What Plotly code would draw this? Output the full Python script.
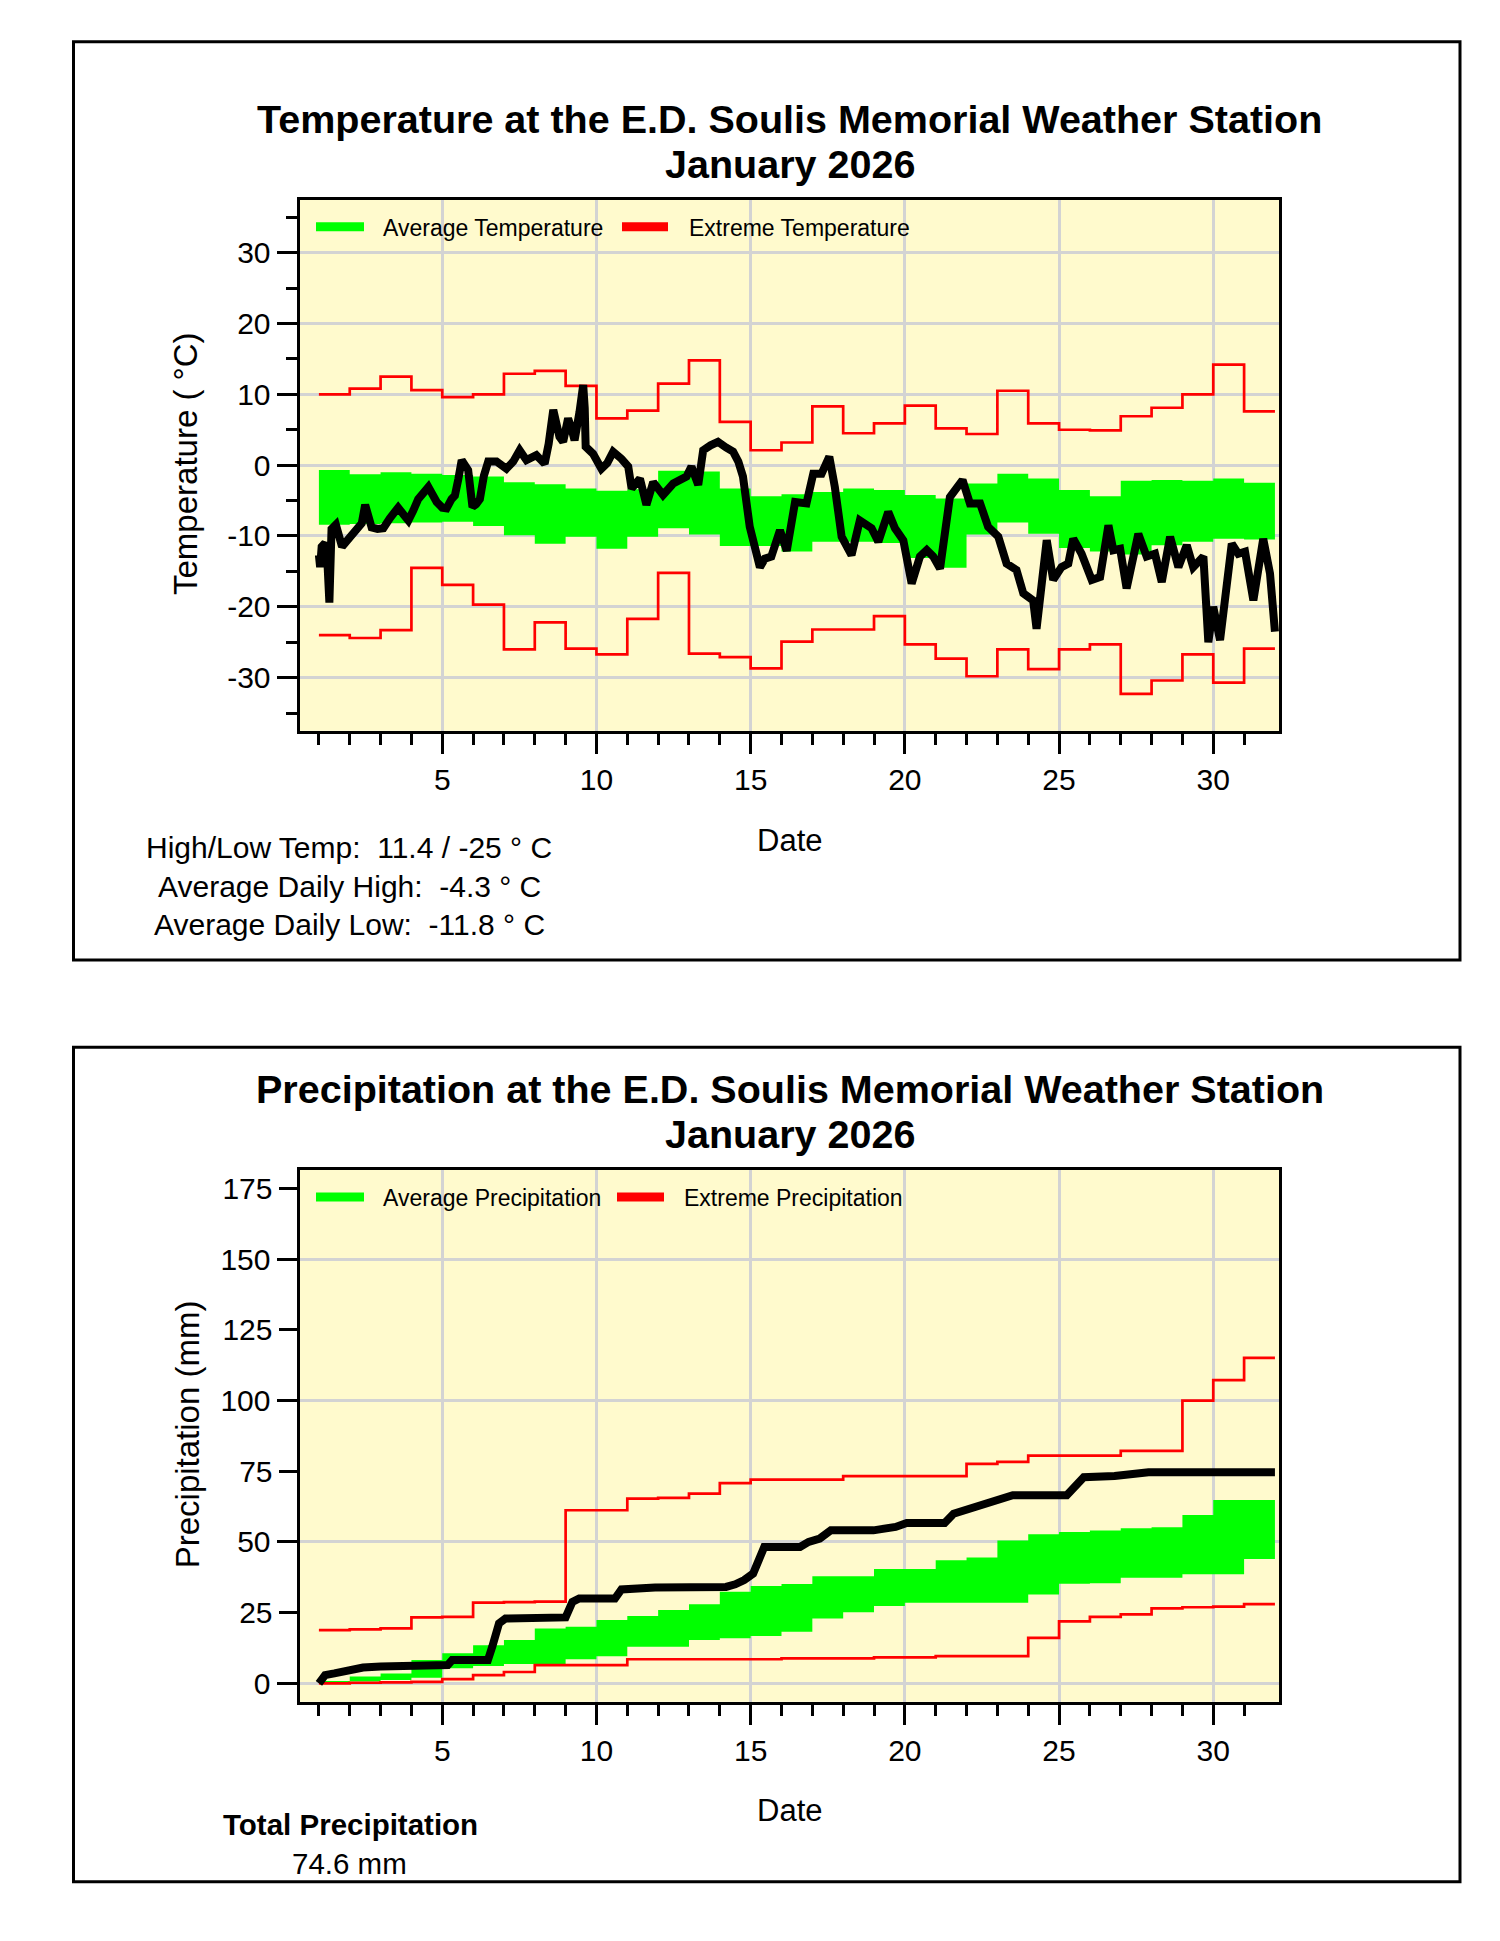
import plotly.graph_objects as go

W, H = 1500, 1941          # reference picture size (px)
PAGE_MARGIN = 8            # default body margin of the html page
FW, FH = W - 2 * PAGE_MARGIN, H - 2 * PAGE_MARGIN
FONT = "Liberation Sans, Arial, sans-serif"

# ---------------- data ----------------
days = list(range(1, 32))
step_x = list(range(1, 33))

# temperature: daily average band (high/low) and extremes
avg_temp_hi = [-0.7, -1.3, -1.0, -1.2, -1.4, -1.6, -2.4, -2.7, -3.3, -3.6, -3.4, -0.8, -0.9, -3.3, -4.4,
               -4.1, -3.8, -3.3, -3.5, -4.2, -4.7, -2.6, -1.2, -1.9, -3.5, -4.4, -2.2, -2.1, -2.2, -1.9, -2.5]
avg_temp_lo = [-8.4, -8.3, -8.2, -8.1, -8.0, -8.6, -9.9, -11.1, -10.1, -11.8, -10.1, -8.9, -9.8, -11.4, -11.4,
               -12.2, -10.8, -10.8, -11.0, -13.1, -14.5, -9.8, -8.1, -9.7, -11.7, -12.2, -12.6, -11.3, -10.8, -10.4, -10.5]
ext_temp_hi = [10.0, 10.8, 12.5, 10.6, 9.6, 10.0, 12.9, 13.3, 11.2, 6.6, 7.7, 11.5, 14.8, 6.1, 2.1,
               3.2, 8.3, 4.5, 5.9, 8.4, 5.2, 4.4, 10.5, 5.9, 5.0, 4.9, 6.9, 8.1, 10.0, 14.2, 7.6]
ext_temp_lo = [-24.0, -24.4, -23.3, -14.5, -16.9, -19.7, -26.0, -22.2, -25.9, -26.7, -21.7, -15.2, -26.6, -27.1, -28.7,
               -24.9, -23.2, -23.2, -21.3, -25.3, -27.3, -29.8, -26.0, -28.8, -26.0, -25.3, -32.3, -30.4, -26.7, -30.7, -25.9]

# observed temperature this month
temp_day = [1.0, 1.04, 1.09, 1.2, 1.28, 1.34, 1.41, 1.55, 1.75, 2.0, 2.2, 2.39, 2.5, 2.71, 2.9, 3.09, 3.3, 3.57,
            3.75, 3.9, 4.06, 4.22, 4.55, 4.7, 4.82, 5.0, 5.14, 5.3, 5.41, 5.52, 5.63, 5.84, 5.93, 5.98, 6.1, 6.22,
            6.35, 6.49, 6.76, 6.95, 7.08, 7.3, 7.51, 7.73, 8.05, 8.32, 8.45, 8.6, 8.8, 8.92, 9.08, 9.2, 9.29, 9.45,
            9.57, 9.62, 9.65, 9.89, 10.16, 10.35, 10.54, 10.81, 11.03, 11.14, 11.41, 11.62, 11.84, 12.16, 12.49,
            12.92, 13.08, 13.3, 13.46, 13.7, 13.94, 14.2, 14.43, 14.6, 14.75, 14.97, 15.15, 15.3, 15.46, 15.67,
            15.95, 16.17, 16.44, 16.81, 17.03, 17.3, 17.55, 17.73, 17.95, 18.27, 18.54, 18.92, 19.14, 19.46, 19.68,
            19.95, 20.22, 20.49, 20.71, 20.92, 21.14, 21.46, 21.87, 22.11, 22.44, 22.7, 23.03, 23.3, 23.62, 23.84,
            24.16, 24.27, 24.6, 24.81, 25.08, 25.3, 25.46, 25.73, 26.06, 26.33, 26.6, 26.76, 26.98, 27.19, 27.57,
            27.84, 28.11, 28.33, 28.6, 28.87, 29.14, 29.35, 29.68, 29.84, 30.0, 30.22, 30.6, 30.81, 31.03, 31.3,
            31.62, 31.84, 32.0]
temp_val = [-12.7, -14.4, -11.5, -11.0, -14.0, -19.4, -9.0, -8.4, -11.5, -10.1, -9.0, -8.2, -5.6, -8.8, -9.0, -8.9,
            -7.5, -6.0, -7.0, -7.8, -6.4, -4.8, -3.1, -4.5, -5.2, -6.0, -6.1, -4.8, -4.3, -2.0, 0.7, -0.7, -3.0, -5.9,
            -5.5, -4.8, -1.5, 0.5, 0.5, 0.0, -0.5, 0.5, 2.1, 0.7, 1.4, 0.2, 3.0, 7.8, 4.0, 3.3, 6.6, 5.0, 3.5, 7.5,
            11.3, 8.0, 2.6, 1.6, -0.5, 0.3, 1.9, 0.9, -0.2, -3.3, -1.9, -5.6, -2.4, -4.2, -2.6, -1.6, -0.2, -2.8,
            2.1, 2.8, 3.3, 2.5, 1.9, 0.5, -1.6, -8.7, -12.0, -14.4, -13.2, -12.9, -9.2, -12.1, -5.2, -5.4, -1.2,
            -1.2, 1.2, -3.1, -10.1, -12.7, -7.8, -8.9, -10.8, -6.6, -8.9, -10.6, -16.7, -12.9, -12.0, -12.9, -14.6,
            -4.5, -2.1, -5.4, -5.4, -8.7, -10.1, -13.9, -14.8, -18.1, -19.1, -23.1, -10.6, -16.2, -14.4, -13.9,
            -10.4, -12.5, -16.2, -15.8, -8.5, -12.0, -11.8, -17.4, -9.7, -12.9, -12.5, -16.5, -10.1, -14.4, -11.3,
            -14.4, -12.9, -25.0, -20.0, -24.7, -11.1, -12.5, -12.2, -19.1, -10.4, -15.3, -23.5]

# precipitation: cumulative average band and extremes
avg_prec_hi = [0.8, 2.4, 3.5, 8.2, 10.6, 13.5, 15.3, 19.4, 20.0, 22.4, 23.8, 25.9, 28.0, 32.4, 34.4, 35.1,
               37.9, 37.9, 40.4, 40.4, 43.5, 44.5, 50.5, 52.7, 53.5, 54.0, 54.8, 55.2, 59.5, 64.8, 64.8]
avg_prec_lo = [0.0, 0.6, 1.2, 2.0, 5.3, 6.1, 6.8, 6.8, 8.5, 9.6, 12.9, 12.9, 15.3, 15.9, 16.7, 18.2,
               22.9, 25.1, 27.3, 28.5, 28.5, 28.5, 28.5, 31.4, 35.2, 35.4, 37.3, 37.3, 38.6, 38.6, 44.0]
ext_prec_hi = [18.8, 19.1, 19.4, 23.3, 23.5, 28.5, 28.7, 28.9, 61.2, 61.2, 65.3, 65.6, 67.1, 70.8, 72.0, 72.0,
               72.0, 73.3, 73.3, 73.3, 73.3, 77.6, 78.3, 80.5, 80.5, 80.5, 82.2, 82.2, 100.0, 107.2, 115.1]
ext_prec_lo = [0.0, 0.2, 0.35, 0.5, 1.5, 2.9, 4.0, 6.4, 6.4, 6.4, 8.5, 8.5, 8.5, 8.5, 8.5, 8.8,
               8.8, 8.8, 9.2, 9.2, 9.6, 9.6, 9.6, 16.1, 21.9, 23.5, 24.4, 26.5, 26.9, 27.1, 28.0]

# observed cumulative precipitation this month
prec_day = [1.0, 1.1, 1.2, 1.5, 1.78, 2.1, 2.43, 3.0, 3.8, 5.18, 5.32, 6.48, 6.62, 6.84, 7.05, 8.0, 9.0, 9.22,
            9.44, 10.6, 10.81, 11.9, 13.0, 14.2, 14.5, 14.79, 15.08, 15.44, 16.6, 16.88, 17.24, 17.6, 18.98, 19.7,
            20.06, 21.29, 21.58, 22.3, 22.95, 23.5, 25.25, 25.8, 26.8, 27.9, 32.0]
prec_val = [0.0, 1.5, 2.9, 3.5, 4.1, 4.8, 5.6, 5.9, 6.1, 6.5, 8.2, 8.2, 12.9, 21.2, 22.9, 23.1, 23.3, 28.8,
            30.0, 30.0, 33.2, 33.9, 34.0, 34.1, 35.0, 36.5, 38.8, 48.2, 48.2, 50.0, 51.2, 54.1, 54.1, 55.3,
            56.7, 56.7, 60.0, 62.4, 65.3, 66.5, 66.5, 72.9, 73.3, 74.6, 74.6]

x_major = [5, 10, 15, 20, 25, 30]
x_minor = [d for d in range(1, 32) if d % 5 != 0]
temp_major = [-30, -20, -10, 0, 10, 20, 30]
temp_minor = [-35, -25, -15, -5, 5, 15, 25, 35]
prec_grid = [0, 50, 100, 150]
prec_mid = [25, 75, 125, 175]

temp_title = "Temperature at the E.D. Soulis Memorial Weather Station"
prec_title = "Precipitation at the E.D. Soulis Memorial Weather Station"
month_label = "January 2026"
temp_stats = ["High/Low Temp:  11.4 / -25 \u00b0 C",
              "Average Daily High:  -4.3 \u00b0 C",
              "Average Daily Low:  -11.8 \u00b0 C"]
prec_total_label = "Total Precipitation"
prec_total = "74.6 mm"

# ---------------- helpers ----------------
def stepped(vals):
    return list(vals) + [vals[-1]]

def px(x):
    return (x - PAGE_MARGIN) / FW

def py(y):
    return 1 - (y - PAGE_MARGIN) / FH

GREEN = "#00FF00"
RED = "#FF0000"
GRID = "#D3D3D3"
BG = "#FFFACD"

fig = go.Figure()

def add_panel(xa, ya, lo, hi, ehi, elo, ox, oy, bw):
    fig.add_trace(go.Scatter(x=step_x, y=stepped(lo), xaxis=xa, yaxis=ya, mode="lines",
                             line=dict(width=0, color="rgba(0,0,0,0)", shape="hv"),
                             showlegend=False, hoverinfo="skip"))
    fig.add_trace(go.Scatter(x=step_x, y=stepped(hi), xaxis=xa, yaxis=ya, mode="lines",
                             line=dict(width=0, color="rgba(0,0,0,0)", shape="hv"),
                             fill="tonexty", fillcolor=GREEN, showlegend=False, hoverinfo="skip"))
    for v in (ehi, elo):
        fig.add_trace(go.Scatter(x=step_x, y=stepped(v), xaxis=xa, yaxis=ya, mode="lines",
                                 line=dict(width=2.7, color=RED, shape="hv"),
                                 showlegend=False, hoverinfo="skip"))
    fig.add_trace(go.Scatter(x=ox, y=oy, xaxis=xa, yaxis=ya, mode="lines",
                             line=dict(width=bw, color="black"),
                             showlegend=False, hoverinfo="skip"))

add_panel("x", "y", avg_temp_lo, avg_temp_hi, ext_temp_hi, ext_temp_lo, temp_day, temp_val, 8)
add_panel("x2", "y2", avg_prec_lo, avg_prec_hi, ext_prec_hi, ext_prec_lo, prec_day, prec_val, 8)
fig.add_trace(go.Scatter(x=[None], y=[None], xaxis="x2", yaxis="y3", showlegend=False, hoverinfo="skip"))

# plot areas (inner edges, px)
PL, PR = 299.5, 1279.2
T_TOP, T_BOT = 199.5, 730.8
P_TOP, P_BOT = 1169.8, 1701.8

tickfont = dict(family=FONT, size=30, color="black")

def xaxis_cfg(anchor):
    return dict(domain=[px(PL), px(PR)], anchor=anchor, range=[0.371, 32.138],
                showline=True, linewidth=3, linecolor="black", mirror=True,
                ticks="outside", ticklen=20, tickwidth=3, tickcolor="black",
                tickmode="array", tickvals=x_major, ticktext=[str(v) for v in x_major],
                tickfont=tickfont, showgrid=True, gridcolor=GRID, gridwidth=2.5, zeroline=False,
                minor=dict(tickmode="array", tickvals=x_minor, ticks="outside", ticklen=11,
                           tickwidth=3, tickcolor="black", showgrid=False),
                fixedrange=True)

fig.update_layout(
    width=FW, height=FH, margin=dict(l=0, r=0, t=0, b=0, autoexpand=False),
    paper_bgcolor="white", plot_bgcolor=BG, showlegend=False,
    font=dict(family=FONT, color="black"),
    xaxis=xaxis_cfg("y"),
    xaxis2=xaxis_cfg("y2"),
    yaxis=dict(domain=[py(T_BOT), py(T_TOP)], anchor="x", range=[-37.5, 37.5],
               showline=True, linewidth=3, linecolor="black", mirror=True,
               ticks="outside", ticklen=20, tickwidth=3, tickcolor="black",
               tickmode="array", tickvals=temp_major, ticktext=[str(v) for v in temp_major],
               tickfont=tickfont, showgrid=True, gridcolor=GRID, gridwidth=2.5, zeroline=False,
               minor=dict(tickmode="array", tickvals=temp_minor, ticks="outside", ticklen=11,
                          tickwidth=3, tickcolor="black", showgrid=False),
               fixedrange=True),
    yaxis2=dict(domain=[py(P_BOT), py(P_TOP)], anchor="x2", range=[-6.54, 181.6],
                showline=True, linewidth=3, linecolor="black", mirror=True,
                ticks="outside", ticklen=20, tickwidth=3, tickcolor="black",
                tickmode="array", tickvals=prec_grid, ticktext=[str(v) for v in prec_grid],
                tickfont=tickfont, showgrid=True, gridcolor=GRID, gridwidth=2.5, zeroline=False,
                fixedrange=True),
    yaxis3=dict(overlaying="y2", anchor="x2", side="left", range=[-6.54, 181.6],
                showline=False, ticks="outside", ticklen=20, tickwidth=3, tickcolor="black",
                tickmode="array", tickvals=prec_mid, ticktext=[str(v) for v in prec_mid],
                tickfont=tickfont, showgrid=False, zeroline=False, fixedrange=True),
)

ann = []
shapes = []

def text(x, y, t, size, xanchor="center", angle=0, weight="normal"):
    ann.append(dict(x=px(x), y=py(y), xref="paper", yref="paper", text=t, showarrow=False,
                    xanchor=xanchor, yanchor="middle", textangle=angle,
                    font=dict(family=FONT, size=size, color="black", weight=weight)))

DY = 970.3  # vertical offset between the two panels
CX = 789.5

for off, title, ytitle, ytx, leg_a, leg_b, red_x, txt_b in (
        (0, temp_title, "Temperature ( \u00b0C)", 185, "Average Temperature", "Extreme Temperature",
         (622, 668), 687),
        (DY, prec_title, "Precipitation (mm)", 187, "Average Precipitation", "Extreme Precipitation",
         (617, 664), 682)):
    text(CX, 119 + off, title, 39.5, weight="bold")
    text(CX, 163.6 + off, month_label, 39.5, weight="bold")
    text(CX, 840 + off, "Date", 31)
    text(ytx, 464 + off, ytitle, 33, angle=-90)
    text(381, 228 + off, leg_a, 23, xanchor="left")
    text(txt_b, 228 + off, leg_b, 23, xanchor="left")
    shapes.append(dict(type="line", xref="paper", yref="paper", x0=px(316), x1=px(364),
                       y0=py(226.7 + off), y1=py(226.7 + off), line=dict(color=GREEN, width=9)))
    shapes.append(dict(type="line", xref="paper", yref="paper", x0=px(red_x[0]), x1=px(red_x[1]),
                       y0=py(226.7 + off), y1=py(226.7 + off), line=dict(color=RED, width=9)))

for i, line in enumerate(temp_stats):
    text(349, 847 + 39 * i, line, 30)
text(350, 1824.6, prec_total_label, 29.5, weight="bold")
text(349.5, 1863.7, prec_total, 29.5)

# outer frames
for (x0, y0, x1, y1) in ((73.5, 41.7, 1460, 960), (73.5, 1047.3, 1460, 1881.7)):
    shapes.append(dict(type="rect", xref="paper", yref="paper", x0=px(x0), x1=px(x1),
                       y0=py(y1), y1=py(y0), line=dict(color="black", width=3),
                       fillcolor="rgba(0,0,0,0)", layer="below"))

fig.update_layout(annotations=ann, shapes=shapes)
fig.write_html("out.html")
